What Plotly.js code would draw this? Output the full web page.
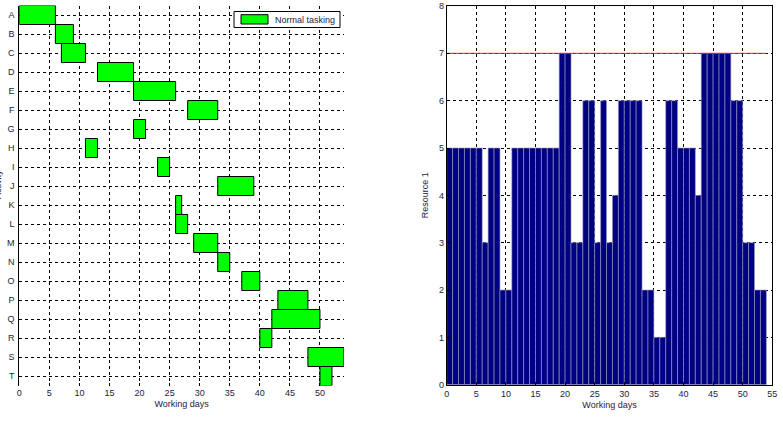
<!DOCTYPE html>
<html>
<head>
<meta charset="utf-8">
<script src="https://cdn.plot.ly/plotly-3.0.1.min.js"></script>
<style>
html,body{margin:0;padding:0;background:#fff;}
#chart{width:783px;height:422px;}
</style>
</head>
<body>
<div id="chart"></div>
<script>
// ---- Gantt data (left) ----
const tasks = ["A","B","C","D","E","F","G","H","I","J","K","L","M","N","O","P","Q","R","S","T"];
const taskStart = [0,6,7,13,19,28,19,11,23,33,26,26,29,33,37,43,42,40,48,50];
const taskEnd   = [6,9,11,19,26,33,21,13,25,39,27,28,33,35,40,48,50,42,54,52];
const legendLabel = "Normal tasking";

// ---- Resource profile (right) ----
const days = [1,2,3,4,5,6,7,8,9,10,11,12,13,14,15,16,17,18,19,20,21,22,23,24,25,26,27,
              28,29,30,31,32,33,34,35,36,37,38,39,40,41,42,43,44,45,46,47,48,49,50,51,52,53,54];
const resource1 = [5,5,5,5,5,5,3,5,5,2,2,5,5,5,5,5,5,5,5,7,7,3,3,6,6,3,6,
                   3,4,6,6,6,6,2,2,1,1,6,6,5,5,5,4,7,7,7,7,7,6,6,3,3,2,2];
const limitValue = 7;
const limitSpan = [0, 54];

const xTicksL = [0,5,10,15,20,25,30,35,40,45,50];
const xTicksR = [0,5,10,15,20,25,30,35,40,45,50,55];
const yTicksR = [0,1,2,3,4,5,6,7,8];

const W = 783, H = 422;
const px = v => v / W;
const py = v => 1 - v / H;

const durations = taskEnd.map((e, i) => e - taskStart[i]);

const tickFont = {family: "Liberation Sans, Arial, sans-serif", size: 9, color: "#1c1c3c"};

const traces = [
  {
    type: "bar", orientation: "h",
    y: tasks, x: durations, base: taskStart, width: 1,
    marker: {color: "#00ff00", line: {color: "#000000", width: 1}},
    xaxis: "x", yaxis: "y", showlegend: false, hoverinfo: "skip"
  },
  {
    type: "bar",
    x: days, y: resource1, width: 1, offset: -1,
    marker: {color: "#000080", line: {color: "#9a9ac8", width: 0.6}},
    xaxis: "x2", yaxis: "y2", showlegend: false, hoverinfo: "skip"
  },
  {
    type: "scatter", mode: "lines",
    x: limitSpan, y: [limitValue, limitValue],
    line: {color: "#d02020", width: 1},
    xaxis: "x2", yaxis: "y2", showlegend: false, hoverinfo: "skip"
  }
];

const gridCommon = {
  showgrid: true, gridcolor: "#000000", griddash: "dot", gridwidth: 1,
  zeroline: false, ticks: "inside", ticklen: 3, tickcolor: "#000000",
  tickfont: tickFont
};

const layout = {
  width: W, height: H,
  margin: {l: 0, r: 0, t: 0, b: 0},
  paper_bgcolor: "#ffffff", plot_bgcolor: "#ffffff",
  showlegend: false,
  bargap: 0,
  xaxis: Object.assign({}, gridCommon, {
    domain: [px(19.3), px(344)], range: [0, 54],
    tickvals: xTicksL, ticktext: xTicksL.map(String),
    showline: false, anchor: "y",
    title: {text: "Working days", font: {family: "Liberation Sans, Arial, sans-serif", size: 9, color: "#1c1c3c"}, standoff: 4}
  }),
  yaxis: Object.assign({}, gridCommon, {
    domain: [py(385.5), py(5.5)],
    type: "category", categoryorder: "array", categoryarray: tasks,
    range: [19.5, -0.5],
    showline: true, linecolor: "#000000", linewidth: 1,
    anchor: "x", ticks: "", ticklabelstandoff: 2
  }),
  xaxis2: Object.assign({}, gridCommon, {
    domain: [px(446.7), px(772.3)], range: [0, 55],
    tickvals: xTicksR, ticktext: xTicksR.map(String),
    showline: true, mirror: true, linecolor: "#000000", linewidth: 1,
    anchor: "y2",
    title: {text: "Working days", font: {family: "Liberation Sans, Arial, sans-serif", size: 9, color: "#1c1c3c"}, standoff: 4}
  }),
  yaxis2: Object.assign({}, gridCommon, {
    domain: [py(384.7), py(6)], range: [0, 8],
    tickvals: yTicksR, ticktext: yTicksR.map(String),
    showline: true, mirror: true, linecolor: "#000000", linewidth: 1,
    anchor: "x2",
    title: {text: "Resource 1", font: {family: "Liberation Sans, Arial, sans-serif", size: 9, color: "#1c1c3c"}, standoff: 8}
  }),
  shapes: [
    {type: "rect", xref: "paper", yref: "paper",
     x0: px(234), x1: px(340), y0: py(27.5), y1: py(11.5),
     line: {color: "#000000", width: 1}, fillcolor: "#ffffff", layer: "above"},
    {type: "rect", xref: "paper", yref: "paper",
     x0: px(241), x1: px(268), y0: py(24), y1: py(14.7),
     line: {color: "#000000", width: 1}, fillcolor: "#00ff00", layer: "above"}
  ],
  annotations: [
    {xref: "paper", yref: "paper", x: px(273), y: py(19.5), xanchor: "left", yanchor: "middle",
     text: legendLabel, showarrow: false,
     font: {family: "Liberation Sans, Arial, sans-serif", size: 9, color: "#1c1c3c"}},
    {xref: "paper", yref: "paper", x: px(-2), y: py(185), xanchor: "center", yanchor: "middle",
     text: "Activity", textangle: -90, showarrow: false,
     font: {family: "Liberation Sans, Arial, sans-serif", size: 9, color: "#1c1c3c"}}
  ]
};

Plotly.newPlot("chart", traces, layout, {staticPlot: true, displayModeBar: false});
</script>
</body>
</html>
